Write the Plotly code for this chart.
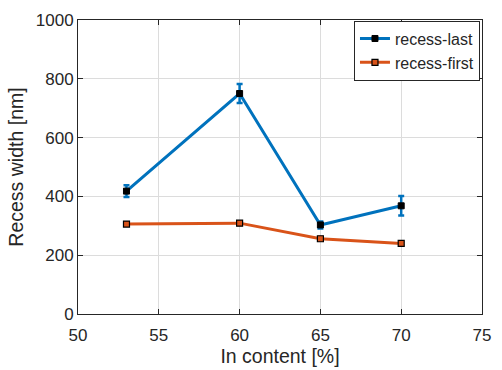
import plotly.graph_objects as go

x = [53, 60, 65, 70]
last_vals = [418, 750, 303, 368]
last_err = [20, 32, 12, 33]
first_vals = [306, 309, 256, 240]
first_err = [6, 6, 6, 6]

blue = "#0072BD"
orange = "#D95319"

fig = go.Figure()
fig.add_trace(go.Scatter(
    x=x, y=last_vals, name="recess-last", mode="lines+markers",
    line=dict(color=blue, width=3),
    marker=dict(symbol="square", size=6, color="black", line=dict(color="black", width=1)),
    error_y=dict(type="data", array=last_err, color=blue, thickness=2.5, width=3),
))
fig.add_trace(go.Scatter(
    x=x, y=first_vals, name="recess-first", mode="lines+markers",
    line=dict(color=orange, width=3),
    marker=dict(symbol="square", size=6, color=orange, line=dict(color="black", width=1.2)),
    error_y=dict(type="data", array=first_err, color=orange, thickness=2.5, width=3),
))

axis_common = dict(
    showline=True, linecolor="#262626", linewidth=1, mirror="ticks",
    ticks="inside", ticklen=5, tickcolor="#262626",
    showgrid=True, gridcolor="#dcdcdc", gridwidth=1, zeroline=False,
    tickfont=dict(family="Liberation Sans, Arial", size=17, color="#262626"),
)

fig.update_layout(
    width=502, height=370,
    margin=dict(l=78, r=11, t=15, b=55),
    plot_bgcolor="white", paper_bgcolor="white",
    font=dict(family="Liberation Sans, Arial", size=17, color="#262626"),
    xaxis=dict(range=[50, 75], dtick=5, ticklabelstandoff=6,
               title=dict(text="In content [%]", font=dict(size=19.5), standoff=0),
               **axis_common),
    yaxis=dict(range=[0, 1000], dtick=200,
               title=dict(text="Recess width [nm]", font=dict(size=19.5), standoff=6),
               **axis_common),
    legend=dict(x=0.995, y=0.998, xanchor="right", yanchor="top",
                bgcolor="white", bordercolor="#262626", borderwidth=1,
                font=dict(size=16), tracegroupgap=0, itemwidth=30),
    showlegend=True,
)

fig.write_html("out.html")
